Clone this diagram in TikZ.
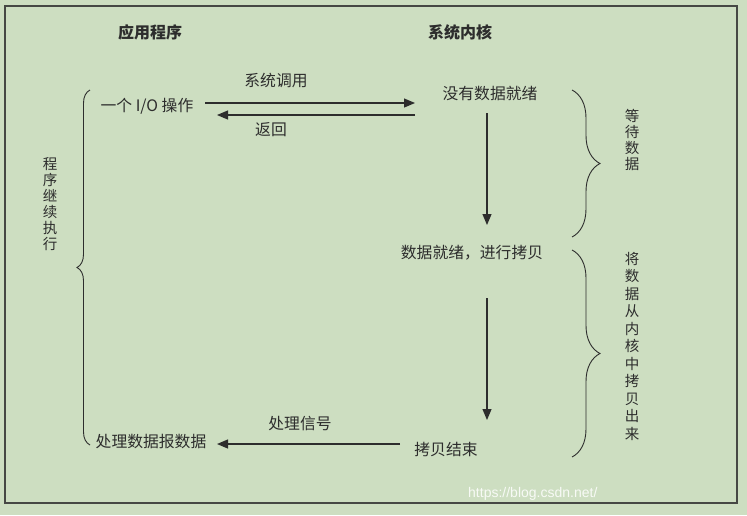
\documentclass[tikz,border=0pt]{standalone}
\usepackage{fontspec}
\newfontfamily\cjk{Noto Sans CJK SC}
\newfontfamily\wm{Liberation Sans}
\usetikzlibrary{arrows.meta,decorations.pathreplacing}
\definecolor{bg}{RGB}{205,222,193}
\definecolor{ink}{RGB}{45,45,45}
\definecolor{frame}{RGB}{70,72,68}
\tikzset{
  lbl/.style={font=\cjk\fontsize{15.8}{17}\selectfont, text=ink, inner sep=0pt, text height=12pt, text depth=3pt},
  head/.style={lbl, font=\cjk\bfseries\fontsize{16}{17}\selectfont},
  vtext/.style={font=\cjk\fontsize{14.5}{16}\selectfont, text=ink, inner sep=0pt, align=center},
  arr/.style={draw=ink, line width=1.2pt, -{Triangle[length=11pt,width=9pt]}},
  brc/.style={draw=ink, line width=0.9pt, decorate},
}
\begin{document}
\begin{tikzpicture}[x=1pt,y=-1pt]
\useasboundingbox (0,0) rectangle (747,515);
\fill[bg] (0,0) rectangle (747,515);
\draw[frame, line width=1.3pt] (5,6) rectangle (737,503);

% headers
\node[head] (h1) at (150,34) {应用程序};
\node[head] (h2) at (460,34) {系统内核};

% main labels
\node[lbl] (io) at (147,107) {一个 I/O 操作};
\node[lbl] (k1) at (490,95) {没有数据就绪};
\node[lbl] (k2) at (472,254) {数据就绪，进行拷贝};
\node[lbl] (k3) at (446,451) {拷贝结束};
\node[lbl] (a3) at (151,443) {处理数据报数据};

% connector labels
\node[lbl] (l1) at (276,82) {系统调用};
\node[lbl] (l2) at (271,131) {返回};
\node[lbl] (l3) at (300,425) {处理信号};

% arrows
\draw[arr] ([shift={(58,-4)}]io.center) -- ([shift={(-75,8)}]k1.center);
\draw[arr] ([shift={(-75,20)}]k1.center) -- ([shift={(70,8)}]io.center);
\draw[arr] ([shift={(-3,18)}]k1.center) -- ([shift={(15,-29)}]k2.center);
\draw[arr] ([shift={(15,44)}]k2.center) -- ([shift={(41,-31)}]k3.center);
\draw[arr] ([shift={(-46,-7)}]k3.center) -- ([shift={(66,1)}]a3.center);

% braces
\draw[brc, decoration={brace, amplitude=28pt}] (572,90) -- (572,237);
\draw[brc, decoration={brace, amplitude=28pt}] (572,250) -- (572,457);
\draw[brc, decoration={brace, amplitude=13pt}] (90,445) -- (90,90);

% vertical texts
\node[vtext] (v1) at (632,140) {等\\待\\数\\据};
\node[vtext, font=\cjk\fontsize{14.5}{17.5}\selectfont] (v2) at (632,346) {将\\数\\据\\从\\内\\核\\中\\拷\\贝\\出\\来};
\node[vtext] (v3) at (50,204) {程\\序\\继\\续\\执\\行};

% watermark
\node[font=\wm\fontsize{14}{14}\selectfont, text=white, opacity=0.85, anchor=west, inner sep=0pt] (wm) at (468,494) {https://blog.csdn.net/};
\end{tikzpicture}
\end{document}
